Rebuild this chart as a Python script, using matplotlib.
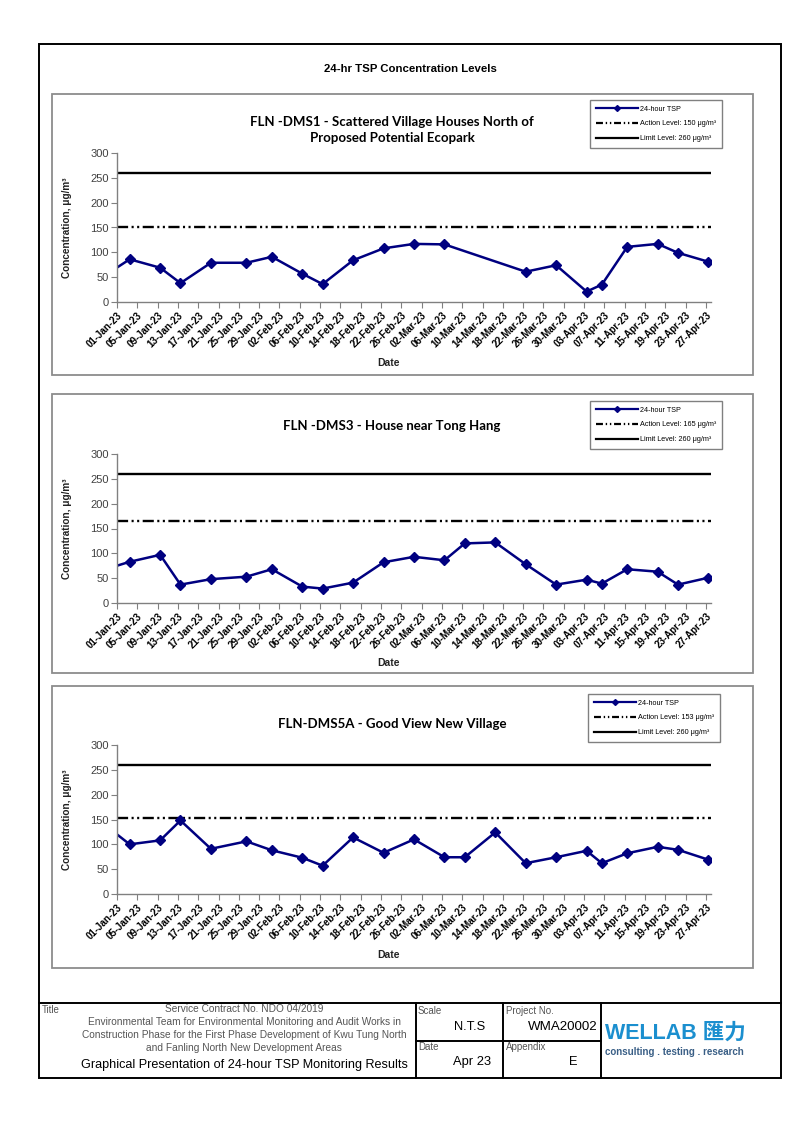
import matplotlib
matplotlib.use("Agg")
import matplotlib.pyplot as plt
import matplotlib.dates as mdates
from matplotlib.patches import Rectangle
from matplotlib.lines import Line2D
import pandas as pd

# ---------------- data ----------------
dates_dms1 = ["28-Dec-22", "03-Jan-23", "09-Jan-23", "13-Jan-23", "19-Jan-23", "26-Jan-23",
              "31-Jan-23", "06-Feb-23", "10-Feb-23", "16-Feb-23", "22-Feb-23", "28-Feb-23",
              "06-Mar-23", "22-Mar-23", "28-Mar-23", "03-Apr-23", "06-Apr-23", "11-Apr-23",
              "17-Apr-23", "21-Apr-23", "27-Apr-23"]
tsp_dms1 = [46, 86, 69, 38, 79, 79, 91, 57, 36, 84, 108, 117, 116, 61, 74, 21, 35, 111, 117, 99, 81]

dates_dms3 = ["28-Dec-22", "03-Jan-23", "09-Jan-23", "13-Jan-23", "19-Jan-23", "26-Jan-23",
              "31-Jan-23", "06-Feb-23", "10-Feb-23", "16-Feb-23", "22-Feb-23", "28-Feb-23",
              "06-Mar-23", "10-Mar-23", "16-Mar-23", "22-Mar-23", "28-Mar-23", "03-Apr-23",
              "06-Apr-23", "11-Apr-23", "17-Apr-23", "21-Apr-23", "27-Apr-23"]
tsp_dms3 = [64, 83, 97, 37, 48, 53, 68, 33, 29, 41, 82, 93, 86, 120, 122, 78, 37, 47, 39, 68, 63, 37, 51]

dates_dms5a = dates_dms3
tsp_dms5a = [148, 100, 108, 148, 91, 106, 88, 73, 57, 114, 83, 110, 74, 74, 124, 62, 74, 87, 62, 82, 95, 89, 69]

action_levels = [150, 165, 153]
limit_levels = [260, 260, 260]
titles = ["FLN -DMS1 - Scattered Village Houses North of\nProposed Potential Ecopark",
          "FLN -DMS3 - House near Tong Hang",
          "FLN-DMS5A - Good View New Village"]
x_start, x_end = "01-Jan-23", "28-Apr-23"
tick_start, tick_end, tick_step = "01-Jan-23", "27-Apr-23", "4D"
y_ticks = [0, 50, 100, 150, 200, 250, 300]

# ---------------- layout ----------------
W, H = 794, 1123
fig = plt.figure(figsize=(W / 100, H / 100), dpi=100)
plt.rcParams["lines.scale_dashes"] = False
ARIAL = "Liberation Sans"
CAL = "Lato"


def fx(x):
    return x / W


def fy(y):
    return 1 - y / H


def rect(x0, y0, x1, y1, color, lw):
    fig.patches.append(Rectangle((fx(x0), fy(y1)), fx(x1) - fx(x0), fy(y0) - fy(y1),
                                 transform=fig.transFigure, fill=False, edgecolor=color, lw=lw))


def hline(x0, x1, y, color="black", lw=1.2):
    fig.lines.append(Line2D([fx(x0), fx(x1)], [fy(y), fy(y)], transform=fig.transFigure, color=color, lw=lw))


def vline(x, y0, y1, color="black", lw=1.2):
    fig.lines.append(Line2D([fx(x), fx(x)], [fy(y0), fy(y1)], transform=fig.transFigure, color=color, lw=lw))


# outer frame
rect(39, 44, 781, 1078, "black", 1.4)
fig.text(fx(410), fy(69), "24-hr TSP Concentration Levels", family=ARIAL, weight="bold",
         fontsize=8.2, ha="center", va="center")

panels = [
    dict(box=(52, 94, 753, 375), ax=(117, 153, 711, 302), title_y=130, date_y=363, leg=(590, 100)),
    dict(box=(52, 394, 753, 673), ax=(117, 454, 711, 603), title_y=426, date_y=663, leg=(590, 401)),
    dict(box=(52, 686, 753, 968), ax=(117, 745, 711, 894), title_y=724, date_y=955, leg=(588, 694)),
]
series = [(dates_dms1, tsp_dms1), (dates_dms3, tsp_dms3), (dates_dms5a, tsp_dms5a)]

dash_dot_dot = (0, (8, 2.5, 1.5, 2.5, 1.5, 2.5))
navy = "#000080"

for i, p in enumerate(panels):
    rect(*p["box"], "#8c8c8c", 1.3)
    x0, y0, x1, y1 = p["ax"]
    ax = fig.add_axes([fx(x0), fy(y1), fx(x1) - fx(x0), fy(y0) - fy(y1)])
    d, v = series[i]
    dt = pd.to_datetime(d, format="%d-%b-%y") + pd.Timedelta(hours=12)
    xs = pd.to_datetime([x_start, x_end], format="%d-%b-%y")
    ax.axhline(limit_levels[i], color="black", lw=1.7)
    ax.axhline(action_levels[i], color="black", lw=1.7, linestyle=dash_dot_dot)
    ax.plot(dt, v, color=navy, lw=1.8, marker="D", markersize=5, markeredgecolor=navy,
            markerfacecolor=navy, clip_on=True)
    ax.set_xlim(xs[0], xs[1])
    ax.set_ylim(0, 300)
    ax.set_yticks(y_ticks)
    ticks = pd.date_range(pd.to_datetime(tick_start, format="%d-%b-%y"),
                          pd.to_datetime(tick_end, format="%d-%b-%y"), freq=tick_step)
    ax.set_xticks(ticks)
    ax.xaxis.set_major_formatter(mdates.DateFormatter("%d-%b-%y"))
    for s in ["top", "right"]:
        ax.spines[s].set_visible(False)
    for s in ["left", "bottom"]:
        ax.spines[s].set_color("#808080")
        ax.spines[s].set_linewidth(1)
    ax.tick_params(axis="both", direction="out", length=4, width=0.8, color="#808080")
    ax.tick_params(axis="y", labelsize=8, labelcolor="#404040", pad=2)
    ax.tick_params(axis="x", labelsize=7, pad=2)
    for lab in ax.get_yticklabels():
        lab.set_family(ARIAL)
    for lab in ax.get_xticklabels():
        lab.set_family(ARIAL)
        lab.set_weight("bold")
        lab.set_rotation(45)
        lab.set_ha("right")
        lab.set_rotation_mode("anchor")
    ax.patch.set_alpha(0)

    fig.text(fx(67), fy((y0 + y1) / 2), "Concentration, \u03bcg/m\u00b3", rotation=90, family=ARIAL,
             fontsize=7.2, weight="bold", ha="center", va="center", color="#222222")
    fig.text(fx(388), fy(p["date_y"]), "Date", family=ARIAL, fontsize=7.5, weight="bold",
             ha="center", va="center", color="#222222")
    fig.text(fx(392), fy(p["title_y"]), titles[i], family=CAL, weight="bold", fontsize=9.5,
             ha="center", va="center", linespacing=1.45)

    handles = [
        Line2D([], [], color=navy, lw=1.6, marker="D", markersize=3),
        Line2D([], [], color="black", lw=1.6, linestyle=(0, (5, 2, 1, 2, 1, 2))),
        Line2D([], [], color="black", lw=1.6),
    ]
    labels = ["24-hour TSP", f"Action Level: {action_levels[i]} \u03bcg/m\u00b3",
              f"Limit Level: {limit_levels[i]} \u03bcg/m\u00b3"]
    lx, ly = p["leg"]
    leg = fig.legend(handles, labels, loc="upper left", bbox_to_anchor=(fx(lx), fy(ly)),
                     borderaxespad=0, fancybox=False, edgecolor="#808080", framealpha=1,
                     prop={"family": ARIAL, "size": 5.2}, handlelength=5.8, handletextpad=0.3,
                     labelspacing=1.05, borderpad=0.8)
    leg.get_frame().set_linewidth(1)

# ---------------- title block ----------------
hline(39, 781, 1003, lw=1.4)
vline(416, 1003, 1078, lw=1.4)
vline(503, 1003, 1078, lw=1.4)
vline(601, 1003, 1078, lw=1.4)
hline(416, 601, 1041, lw=1.4)

gray = "#555555"
fig.text(fx(42), fy(1010), "Title", family=ARIAL, fontsize=7, color=gray, ha="left", va="center")
block_lines = ["Service Contract No. NDO 04/2019",
               "Environmental Team for Environmental Monitoring and Audit Works in",
               "Construction Phase for the First Phase Development of Kwu Tung North",
               "and Fanling North New Development Areas"]
for k, t in enumerate(block_lines):
    fig.text(fx(244), fy(1009 + 13 * k), t, family=ARIAL, fontsize=7.3, color=gray,
             ha="center", va="center")
fig.text(fx(244), fy(1065), "Graphical Presentation of 24-hour TSP Monitoring Results", family=ARIAL,
         fontsize=9.1, color="black", ha="center", va="center")

fig.text(fx(418), fy(1011), "Scale", family=ARIAL, fontsize=7, color=gray, ha="left", va="center")
fig.text(fx(470), fy(1027), "N.T.S", family=ARIAL, fontsize=9.3, color="black", ha="center", va="center")
fig.text(fx(418), fy(1047), "Date", family=ARIAL, fontsize=7, color=gray, ha="left", va="center")
fig.text(fx(472), fy(1062), "Apr 23", family=ARIAL, fontsize=9.3, color="black", ha="center", va="center")
fig.text(fx(506), fy(1011), "Project No.", family=ARIAL, fontsize=7, color=gray, ha="left", va="center")
fig.text(fx(598), fy(1027), "WMA20002", family=ARIAL, fontsize=9.6, color="black", ha="right", va="center")
fig.text(fx(506), fy(1047), "Appendix", family=ARIAL, fontsize=7, color=gray, ha="left", va="center")
fig.text(fx(573), fy(1062), "E", family=ARIAL, fontsize=9.3, color="black", ha="center", va="center")

fig.text(fx(605), fy(1033), "WELLAB \u532f\u529b", family=[ARIAL, "Noto Sans CJK TC"], weight="bold",
         fontsize=15.5, color="#1b8fcf", ha="left", va="center")
fig.text(fx(605), fy(1052), "consulting . testing . research", family=ARIAL, weight="bold",
         fontsize=7, color="#3a5f86", ha="left", va="center")

fig.savefig("out.png", dpi=100)
